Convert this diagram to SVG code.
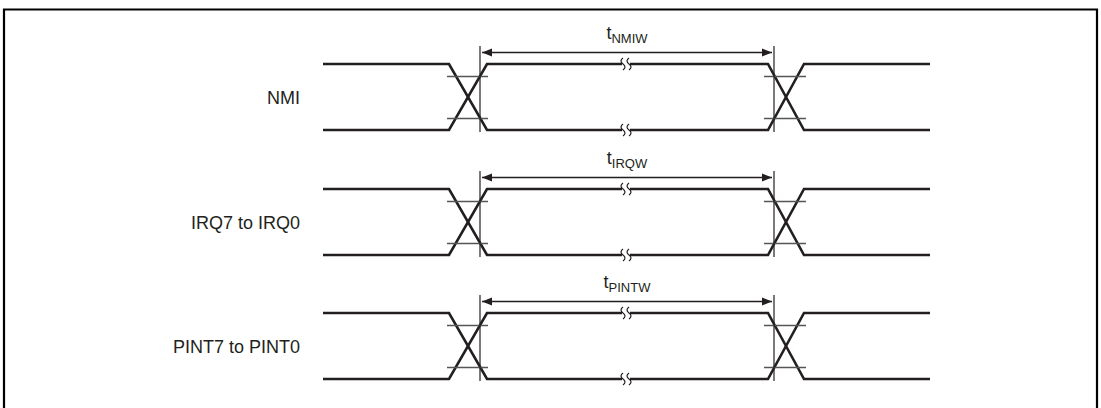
<svg xmlns="http://www.w3.org/2000/svg" width="1101" height="408" viewBox="0 0 1101 408">
<defs>
<style>
.wave{fill:none;stroke:#231f20;stroke-width:2.6;stroke-linejoin:miter}
.tick{stroke:#555;stroke-width:1.6}
.mark{stroke:#231f20;stroke-width:1.2}
.dim{stroke:#231f20;stroke-width:1.3;fill:none}
.brk{fill:none;stroke:#231f20;stroke-width:1.2}
.lbl{font-family:"Liberation Sans",Arial,sans-serif;font-size:18px;fill:#231f20}
.sub{font-size:13px}
</style>
<marker id="ah" viewBox="0 0 10 10" refX="10" refY="5" markerWidth="10" markerHeight="10" markerUnits="userSpaceOnUse" orient="auto-start-reverse">
<path d="M0,1 L10,5 L0,9 Z" fill="#231f20"/>
</marker>
<g id="sig">
<path class="wave" d="M323,0 H449 L487,66 H768 L804,0 H930"/>
<path class="wave" d="M323,66 H449 L487,0 H768 L804,66 H930"/>
<line class="tick" x1="447" y1="12.5" x2="488" y2="12.5"/>
<line class="tick" x1="447" y1="54.5" x2="488" y2="54.5"/>
<line class="tick" x1="764" y1="12.5" x2="806" y2="12.5"/>
<line class="tick" x1="764" y1="54.5" x2="806" y2="54.5"/>
<line class="mark" x1="480" y1="-18" x2="480" y2="68"/>
<line class="mark" x1="774" y1="-18" x2="774" y2="68"/>
<rect x="622" y="-4" width="8" height="8" fill="#fff"/>
<rect x="622" y="62" width="8" height="8" fill="#fff"/>
<path class="brk" d="M623,-6 Q619,-3 623,0 Q627,3 623,6 M629,-6 Q625,-3 629,0 Q633,3 629,6"/>
<path class="brk" d="M623,60 Q619,63 623,66 Q627,69 623,72 M629,60 Q625,63 629,66 Q633,69 629,72"/>
<line class="dim" x1="482" y1="-11.5" x2="772" y2="-11.5" marker-start="url(#ah)" marker-end="url(#ah)"/>
</g>
</defs>
<path d="M4,420 V9.5 H1097 V420" fill="none" stroke="#000" stroke-width="2.2"/>
<g id="connectors">
<use href="#sig" x="0" y="64"/>
<use href="#sig" x="0" y="189"/>
<use href="#sig" x="0" y="313"/>
</g>
<g id="nmi">
<text class="lbl" x="300" y="103.5" text-anchor="end">NMI</text>
<text class="lbl" x="627" y="39" text-anchor="middle">t<tspan class="sub" dy="4">NMIW</tspan></text>
</g>
<g id="irq">
<text class="lbl" x="300" y="228.5" text-anchor="end">IRQ7 to IRQ0</text>
<text class="lbl" x="627" y="164" text-anchor="middle">t<tspan class="sub" dy="4">IRQW</tspan></text>
</g>
<g id="pint">
<text class="lbl" x="300" y="352.5" text-anchor="end">PINT7 to PINT0</text>
<text class="lbl" x="627" y="288" text-anchor="middle">t<tspan class="sub" dy="4">PINTW</tspan></text>
</g>
</svg>
